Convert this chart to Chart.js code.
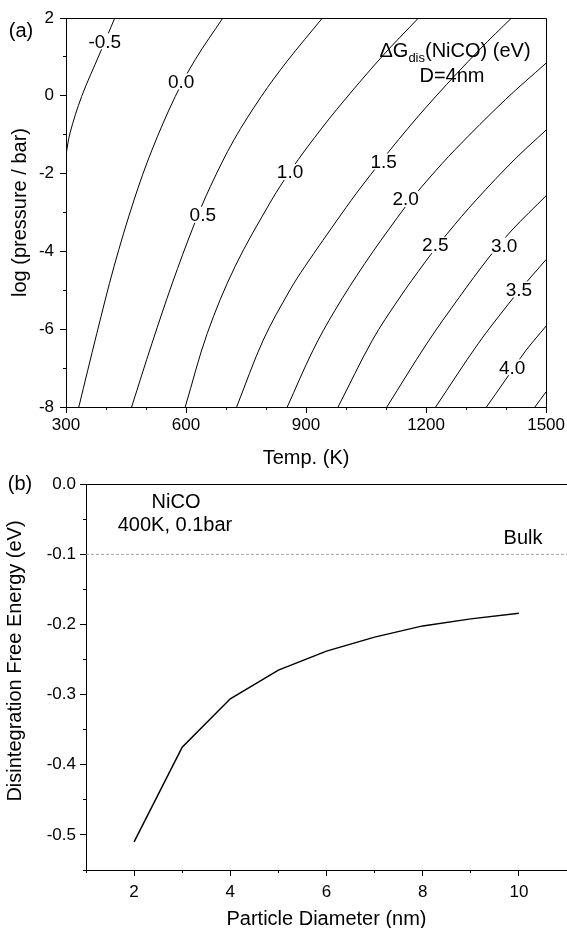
<!DOCTYPE html>
<html>
<head>
<meta charset="utf-8">
<script src="https://cdn.jsdelivr.net/npm/chart.js@4/dist/chart.umd.min.js"></script>
<style>
html,body{margin:0;padding:0;background:#fff;overflow:hidden;width:567px;height:928px;}
#ca{position:absolute;left:0;top:0;}
#cb{position:absolute;left:0;top:470px;}
</style>
</head>
<body>
<canvas id="ca" width="567" height="470"></canvas>
<canvas id="cb" width="567" height="458"></canvas>
<script>
// ---------- panel (a): contour lines of dG_dis, points read as (T [K], log p [bar]) ----------
const level_m05 = [[300,-1.52],[310,-0.96],[339,-0.02],[385,1.10],[422,2.00]];
const level_000 = [[332,-8],[377,-6.11],[420,-4.39],[470,-2.68],[515,-1.39],[573,-0.02],[623,0.93],[692,2]];
const level_050 = [[464,-8],[515,-6.36],[566,-4.81],[618,-3.37],[660.5,-2.34],[720,-1.13],[788,-0.02],[852,0.88],[941,2]];
const level_100 = [[598,-8],[653,-6.11],[722.5,-4.39],[814,-2.68],[859,-1.96],[904,-1.31],[976,-0.36],[1090,1.01],[1181,2]];
const level_150 = [[726.5,-8],[793,-6.28],[860,-4.99],[897,-4.39],[987,-3.06],[1038,-2.34],[1131,-1.13],[1223,-0.03],[1333,1.18],[1413.6,2]];
const level_200 = [[853,-8],[917,-6.55],[972,-5.52],[1047,-4.31],[1129,-3.12],[1164,-2.65],[1210,-2.09],[1272,-1.39],[1398,-0.10],[1500,0.84]];
const level_250 = [[980,-8],[1066,-6.28],[1130,-5.25],[1198,-4.27],[1254,-3.53],[1325,-2.68],[1420,-1.65],[1500,-0.88]];
const level_300 = [[1102,-8],[1202.5,-6.36],[1283,-5.18],[1356,-4.17],[1415,-3.45],[1500,-2.57]];
const level_350 = [[1224,-8],[1331,-6.36],[1400,-5.43],[1436,-4.97],[1500,-4.21]];
const level_400 = [[1351,-8],[1398,-7.31],[1420,-6.98],[1450,-6.54],[1500,-5.92]];
const level_450 = [[1472,-8],[1500,-7.61]];

const levelNames  = ['-0.5','0.0','0.5','1.0','1.5','2.0','2.5','3.0','3.5','4.0'];
const levelLabelT = [397, 588, 642, 860, 1094, 1149, 1223, 1395, 1432, 1415];
const levelLabelP = [1.40, 0.37, -3.06, -1.96, -1.69, -2.65, -3.84, -3.85, -4.98, -6.98];

const tempMajor = [300,600,900,1200,1500];
const tempMinor = [300,400,500,600,700,800,900,1000,1100,1200,1300,1400,1500];
const logpMajor = [-8,-6,-4,-2,0,2];
const logpMinor = [-8,-7,-6,-5,-4,-3,-2,-1,0,1,2];

// ---------- panel (b): disintegration free energy vs particle diameter ----------
const diameters = [2,3,4,5,6,7,8,9,10];
const energies  = [-0.510,-0.375,-0.306,-0.265,-0.238,-0.218,-0.202,-0.192,-0.184];
const bulkEnergy = -0.1;
const diamMajor = [2,4,6,8,10];
const diamMinor = [1,2,3,4,5,6,7,8,9,10,11];
const energyMajor = [-0.5,-0.4,-0.3,-0.2,-0.1,0];
const energyMinor = [-0.55,-0.5,-0.45,-0.4,-0.35,-0.3,-0.25,-0.2,-0.15,-0.1,-0.05,0];

const FAMILY = '"Liberation Sans", Arial, Helvetica, sans-serif';
Chart.defaults.font.family = FAMILY;
Chart.defaults.color = '#000';

const contourLines = [level_m05,level_000,level_050,level_100,level_150,level_200,level_250,level_300,level_350,level_400,level_450];

function setTicks(arr){ return s => { s.ticks = arr.map(v => ({value:v})); }; }
function majorGrid(){ return {drawOnChartArea:false, color:'#000', tickColor:'#000', lineWidth:1, tickLength:6}; }
function minorGrid(){ return {drawOnChartArea:false, color:'#000', tickColor:'#000', lineWidth:1, tickLength:3}; }

const plugA = {
  id:'plugA',
  afterDatasetsDraw(chart){
    const {ctx, chartArea:a, scales} = chart;
    const sx = scales.x, sy = scales.y;
    ctx.save();
    ctx.font = '19px ' + FAMILY;
    ctx.textAlign = 'center';
    ctx.textBaseline = 'middle';
    for (let i = 0; i < levelNames.length; i++) {
      const px = sx.getPixelForValue(levelLabelT[i]);
      const py = sy.getPixelForValue(levelLabelP[i]);
      const w = ctx.measureText(levelNames[i]).width;
      ctx.fillStyle = '#fff';
      ctx.fillRect(px - w/2 - 2, py - 8, w + 4, 16);
      ctx.fillStyle = '#000';
      ctx.fillText(levelNames[i], px, py + 1);
    }
    ctx.strokeStyle = '#000';
    ctx.lineWidth = 1;
    ctx.beginPath();
    ctx.moveTo(a.left, Math.round(a.top) + 0.5);
    ctx.lineTo(Math.round(a.right) + 0.5, Math.round(a.top) + 0.5);
    ctx.lineTo(Math.round(a.right) + 0.5, a.bottom);
    ctx.stroke();
    ctx.textAlign = 'left';
    ctx.textBaseline = 'alphabetic';
    const big = '20px ' + FAMILY, small = '13px ' + FAMILY;
    const parts = [['\u0394G', big, 0], ['dis', small, 5], ['(NiCO) (eV)', big, 0]];
    let total = 0;
    for (const p of parts) { ctx.font = p[1]; total += ctx.measureText(p[0]).width; }
    let x = 455 - total/2;
    for (const p of parts) { ctx.font = p[1]; ctx.fillText(p[0], x, 57 + p[2]); x += ctx.measureText(p[0]).width; }
    ctx.font = big;
    ctx.textAlign = 'center';
    ctx.fillText('D=4nm', 452, 82);
    ctx.textBaseline = 'middle';
    ctx.fillText('(a)', 21, 31);
    ctx.restore();
  }
};

new Chart(document.getElementById('ca'), {
  type:'scatter',
  data:{
    datasets: contourLines.map(arr => ({
      data: arr.map(p => ({x:p[0], y:p[1]})),
      showLine:true, borderColor:'#000', borderWidth:1, pointRadius:0,
      tension:0.35, fill:false
    }))
  },
  options:{
    responsive:false, animation:false, events:[],
    layout:{padding:{left:0, right:19, top:18, bottom:0}},
    plugins:{legend:{display:false}, tooltip:{enabled:false}},
    scales:{
      x:{type:'linear', position:'bottom', weight:1, min:300, max:1500,
         afterBuildTicks:setTicks(tempMajor), afterFit:s => { s.height = 63; },
         ticks:{font:{size:17}, color:'#000', padding:2, maxRotation:0, autoSkip:false, callback:v => String(v)},
         grid:majorGrid(), border:{display:true, color:'#000', width:1},
         title:{display:true, text:'Temp. (K)', color:'#000', font:{size:20, lineHeight:1}, padding:{top:0, bottom:2}}},
      xMinor:{type:'linear', position:'bottom', weight:0, min:300, max:1500,
         afterBuildTicks:setTicks(tempMinor), afterFit:s => { s.height = 0; },
         ticks:{display:false}, grid:minorGrid(), border:{display:false}},
      y:{type:'linear', position:'left', weight:1, min:-8, max:2,
         afterBuildTicks:setTicks(logpMajor), afterFit:s => { s.width = 66; },
         ticks:{font:{size:17}, color:'#000', padding:6, autoSkip:false, callback:v => String(v)},
         grid:majorGrid(), border:{display:true, color:'#000', width:1},
         title:{display:true, text:'log (pressure / bar)', color:'#000', font:{size:20, lineHeight:1}, padding:{top:10, bottom:0}}},
      yMinor:{type:'linear', position:'left', weight:0, min:-8, max:2,
         afterBuildTicks:setTicks(logpMinor), afterFit:s => { s.width = 0; },
         ticks:{display:false}, grid:minorGrid(), border:{display:false}}
    }
  },
  plugins:[plugA]
});

const plugB = {
  id:'plugB',
  afterDatasetsDraw(chart){
    const {ctx, chartArea:a} = chart;
    ctx.save();
    ctx.strokeStyle = '#000';
    ctx.lineWidth = 1;
    ctx.beginPath();
    ctx.moveTo(a.left, Math.round(a.top) + 0.5);
    ctx.lineTo(a.right, Math.round(a.top) + 0.5);
    ctx.stroke();
    ctx.fillStyle = '#000';
    ctx.font = '20px ' + FAMILY;
    ctx.textAlign = 'center';
    ctx.textBaseline = 'middle';
    ctx.fillText('NiCO', 176, 32);
    ctx.fillText('400K, 0.1bar', 175, 55);
    ctx.fillText('Bulk', 523, 68);
    ctx.fillText('(b)', 20, 14);
    ctx.translate(15, 191);
    ctx.rotate(-Math.PI/2);
    ctx.fillText('Disintegration Free Energy (eV)', 0, 0);
    ctx.restore();
  }
};

new Chart(document.getElementById('cb'), {
  type:'scatter',
  data:{
    datasets:[
      {data: diameters.map((d,i) => ({x:d, y:energies[i]})), showLine:true, borderColor:'#000', borderWidth:1.5, pointRadius:0, tension:0, fill:false},
      {data: [{x:1, y:bulkEnergy}, {x:11, y:bulkEnergy}], showLine:true, borderColor:'#a0a0a0', borderWidth:1, borderDash:[3,2], pointRadius:0, fill:false}
    ]
  },
  options:{
    responsive:false, animation:false, events:[],
    layout:{padding:{left:0, right:0, top:11, bottom:0}},
    plugins:{legend:{display:false}, tooltip:{enabled:false}},
    scales:{
      x:{type:'linear', position:'bottom', weight:1, min:1, max:11,
         afterBuildTicks:setTicks(diamMajor), afterFit:s => { s.height = 58; },
         ticks:{font:{size:17}, color:'#000', padding:6, maxRotation:0, autoSkip:false, callback:v => String(v)},
         grid:majorGrid(), border:{display:true, color:'#000', width:1},
         title:{display:true, text:'Particle Diameter (nm)', color:'#000', font:{size:20, lineHeight:0.9}, padding:{top:0, bottom:0}}},
      xMinor:{type:'linear', position:'bottom', weight:0, min:1, max:11,
         afterBuildTicks:setTicks(diamMinor), afterFit:s => { s.height = 0; },
         ticks:{display:false}, grid:minorGrid(), border:{display:false}},
      y:{type:'linear', position:'left', weight:1, min:-0.55, max:0,
         afterBuildTicks:setTicks(energyMajor), afterFit:s => { s.width = 86; },
         ticks:{font:{size:17}, color:'#000', padding:4, autoSkip:false, callback:v => Number(v).toFixed(1)},
         grid:majorGrid(), border:{display:true, color:'#000', width:1}},
      yMinor:{type:'linear', position:'left', weight:0, min:-0.55, max:0,
         afterBuildTicks:setTicks(energyMinor), afterFit:s => { s.width = 0; },
         ticks:{display:false}, grid:minorGrid(), border:{display:false}}
    }
  },
  plugins:[plugB]
});
</script>
</body>
</html>
